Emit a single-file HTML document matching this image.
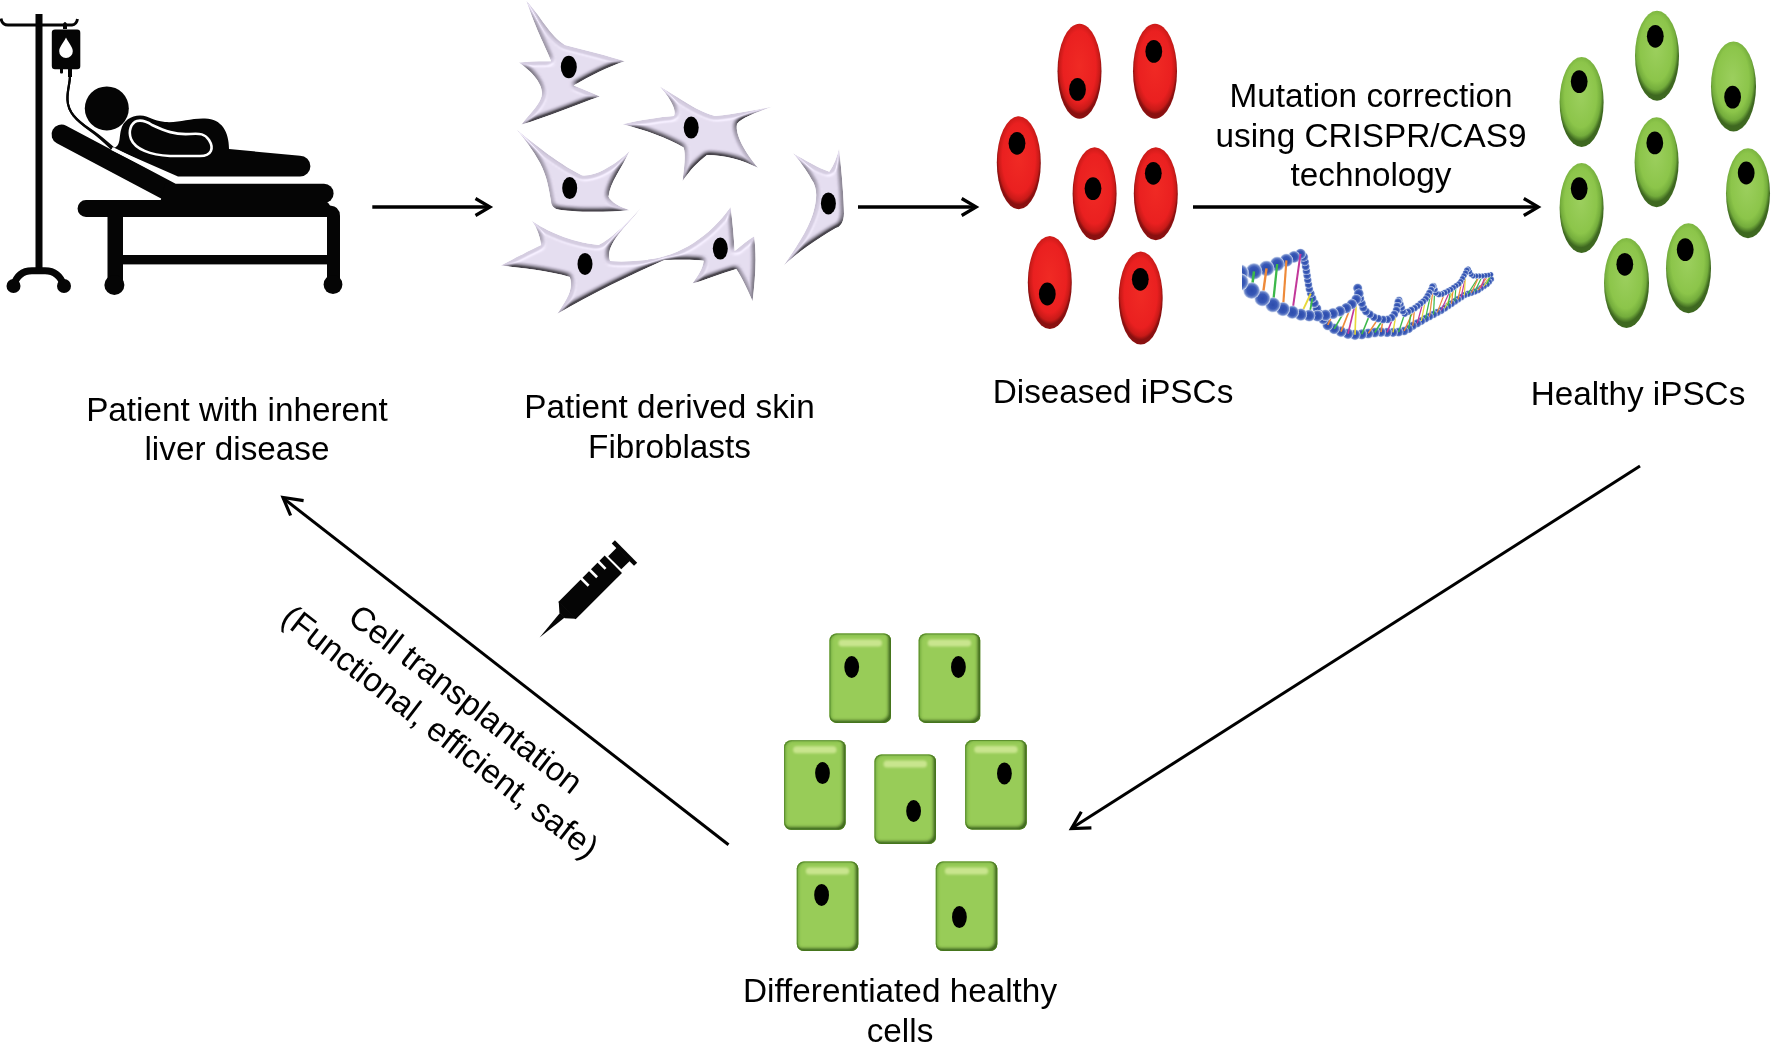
<!DOCTYPE html>
<html><head><meta charset="utf-8">
<style>
html,body{margin:0;padding:0;background:#fff;width:1772px;height:1042px;overflow:hidden}
svg{display:block;will-change:transform}
text{font-family:"Liberation Sans",sans-serif;font-size:33.3px;fill:#000}
</style></head>
<body>
<svg width="1772" height="1042" viewBox="0 0 1772 1042">
<defs>
  <radialGradient id="gRed" cx="50%" cy="45%" r="50%">
    <stop offset="0%" stop-color="#f02a24"/>
    <stop offset="75%" stop-color="#ea2020"/>
    <stop offset="92%" stop-color="#c81a18"/>
    <stop offset="100%" stop-color="#8a1010"/>
  </radialGradient>
  <radialGradient id="gGreen" cx="48%" cy="42%" r="52%">
    <stop offset="0%" stop-color="#9ccf5e"/>
    <stop offset="70%" stop-color="#8cc54a"/>
    <stop offset="88%" stop-color="#74ad3c"/>
    <stop offset="100%" stop-color="#3e6820"/>
  </radialGradient>

  <linearGradient id="gFib" x1="0" y1="0" x2="0.3" y2="1">
    <stop offset="0%" stop-color="#e4e0ec"/>
    <stop offset="50%" stop-color="#d6d0e2"/>
    <stop offset="100%" stop-color="#c4bcd2"/>
  </linearGradient>

  <filter id="emb" x="-10%" y="-10%" width="120%" height="120%">
    <feGaussianBlur in="SourceAlpha" stdDeviation="2.2" result="b"/>
    <feOffset in="b" dx="-1.8" dy="-1.8" result="o"/>
    <feComposite in="SourceAlpha" in2="o" operator="out" result="rim"/>
    <feFlood flood-color="#5e566c" flood-opacity="0.85"/>
    <feComposite in2="rim" operator="in" result="shadow"/>
    <feOffset in="b" dx="1.5" dy="1.5" result="o2"/>
    <feComposite in="SourceAlpha" in2="o2" operator="out" result="rim2"/>
    <feFlood flood-color="#ffffff" flood-opacity="0.6"/>
    <feComposite in2="rim2" operator="in" result="hl"/>
    <feMerge><feMergeNode in="SourceGraphic"/><feMergeNode in="hl"/><feMergeNode in="shadow"/></feMerge>
  </filter>

  <radialGradient id="gBall" cx="50%" cy="50%" r="50%">
    <stop offset="0%" stop-color="#2c4cac"/>
    <stop offset="55%" stop-color="#3858b6"/>
    <stop offset="80%" stop-color="#6a84c8"/>
    <stop offset="92%" stop-color="#b0c0e4"/>
    <stop offset="100%" stop-color="#dce4f4"/>
  </radialGradient>
  <linearGradient id="gRect" x1="0" y1="0" x2="1" y2="0">
    <stop offset="0%" stop-color="#78b440"/>
    <stop offset="8%" stop-color="#92c852"/>
    <stop offset="85%" stop-color="#9acd5a"/>
    <stop offset="94%" stop-color="#6a9c38"/>
    <stop offset="100%" stop-color="#3e6420"/>
  </linearGradient>
  <linearGradient id="gRectV" x1="0" y1="0" x2="0" y2="1">
    <stop offset="0%" stop-color="#7ab444" stop-opacity="0.6"/>
    <stop offset="6%" stop-color="#9ace5a" stop-opacity="0"/>
    <stop offset="8%" stop-color="#d2e89a" stop-opacity="0.9"/>
    <stop offset="15%" stop-color="#c8e48a" stop-opacity="0.0"/>
    <stop offset="88%" stop-color="#5a9030" stop-opacity="0"/>
    <stop offset="94%" stop-color="#4e8428" stop-opacity="0.9"/>
    <stop offset="100%" stop-color="#8cc450" stop-opacity="0.9"/>
  </linearGradient>

  <filter id="embG" x="-10%" y="-10%" width="120%" height="120%">
    <feGaussianBlur in="SourceAlpha" stdDeviation="1.8" result="b"/>
    <feOffset in="b" dx="-3" dy="-2.6" result="o"/>
    <feComposite in="SourceAlpha" in2="o" operator="out" result="rim"/>
    <feFlood flood-color="#3a641c" flood-opacity="1"/>
    <feComposite in2="rim" operator="in" result="shadow"/>
    <feOffset in="b" dx="1.8" dy="1.2" result="o2"/>
    <feComposite in="SourceAlpha" in2="o2" operator="out" result="rim2"/>
    <feFlood flood-color="#5e9c30" flood-opacity="0.8"/>
    <feComposite in2="rim2" operator="in" result="hl"/>
    <feMorphology in="SourceAlpha" operator="erode" radius="0.8" result="er"/>
    <feComposite in="SourceAlpha" in2="er" operator="out" result="edge"/>
    <feFlood flood-color="#4a7a26" flood-opacity="0.7"/>
    <feComposite in2="edge" operator="in" result="edgec"/>
    <feMerge><feMergeNode in="SourceGraphic"/><feMergeNode in="hl"/><feMergeNode in="shadow"/><feMergeNode in="edgec"/></feMerge>
  </filter>
  <filter id="bl1" x="-20%" y="-50%" width="140%" height="200%"><feGaussianBlur stdDeviation="1.3"/></filter>

  <filter id="bev" x="-10%" y="-10%" width="120%" height="120%">
    <feGaussianBlur in="SourceAlpha" stdDeviation="2.6" result="blur"/>
    <feDiffuseLighting in="blur" surfaceScale="6" diffuseConstant="1.3" lighting-color="#ffffff" result="diff">
      <feDistantLight azimuth="250" elevation="55"/>
    </feDiffuseLighting>
    <feSpecularLighting in="blur" surfaceScale="6" specularConstant="0.45" specularExponent="16" lighting-color="#ffffff" result="spec">
      <feDistantLight azimuth="250" elevation="55"/>
    </feSpecularLighting>
    <feComposite in="SourceGraphic" in2="diff" operator="arithmetic" k1="0.9" k2="0.1" k3="0" k4="0" result="lit"/>
    <feComposite in="lit" in2="spec" operator="arithmetic" k1="0" k2="1" k3="0.6" k4="0" result="lit2"/>
    <feComposite in="lit2" in2="SourceAlpha" operator="in"/>
  </filter>
<clipPath id="dnaclip"><rect x="1242" y="230" width="270" height="120"/></clipPath>
</defs>

<g id="patient" fill="#050505">
  <!-- IV pole -->
  <rect x="35.5" y="14" width="7" height="256"/>
  <path d="M1,18.5 Q2,25 8,25 L72,25 Q76.5,24.5 77.5,19" fill="none" stroke="#050505" stroke-width="2.9"/>
  <path d="M63,29 L63,24 Q65,20 67,24 L67,29 Z"/>
  <rect x="51.8" y="29.5" width="28.5" height="39.8" rx="3.2"/>
  <rect x="60" y="68" width="3" height="5.5" rx="1"/>
  <rect x="68" y="68" width="4" height="9"/>
  <path d="M66,37.6 C68.5,43 72.8,47 72.8,51.2 A6.8,6.8 0 0 1 59.2,51.2 C59.2,47 63.5,43 66,37.6 Z" fill="#fff"/>
  <path d="M70,76 C70,84 67,90 67.5,100 C68,112 76,120 90,130 C100,137 106,143 112,149" fill="none" stroke="#050505" stroke-width="2.2"/>
  <!-- base of pole -->
  <path d="M13.5,286 C16,277 22,270.8 32,270.8 L45,270.8 C55,270.8 61,277 64,286" fill="none" stroke="#050505" stroke-width="7"/>
  <circle cx="13.5" cy="286" r="7"/>
  <circle cx="64" cy="286" r="7"/>
  <!-- head -->
  <circle cx="106.8" cy="108.4" r="22"/>
  <!-- backrest -->
  <path d="M61.5,134.5 L170,192" stroke="#050505" stroke-width="20" stroke-linecap="round"/>
  <!-- mattress -->
  <path d="M165,183.8 L324,183.8 A9.6,9.6 0 0 1 324,203 L160,203 Z"/>
  <!-- frame -->
  <path d="M86,200 L320,200 Q327,200 330,205.4 Q340,206 340,216 L340,280 L327,280 L327,216.9 L86,216.9 A8.45,8.45 0 0 1 86,200 Z"/>
  <rect x="107.5" y="210" width="15.5" height="72"/>
  <circle cx="114.4" cy="285" r="10"/>
  <circle cx="333" cy="284.5" r="9.4"/>
  <rect x="120" y="255" width="210" height="9.4"/>
  <!-- body -->
  <path d="M113,148 C121,147 119,137 121,130 C123,121 131,115.6 140,115.6 C150,116 152,121 165,122 C180,123 190,118 205,118.5 C222,119 229,132 229,149 L300,155.8 A10.4,10.4 0 0 1 300,176.6 L178,176.6 Z"/>
  <path d="M70,76 C70,84 67,90 67.5,100 C68,112 76,120 90,129.5 C100,136 106,142 114,148.5" fill="none" stroke="#050505" stroke-width="2.2"/>
  <!-- arm outline (white) -->
  <path d="M137,121 C131,123 128,131 131,139 C135,149 150,155 170,156 L200,156 C212,156 214,148 209,140 C205,134 200,133 190,134 C175,135 165,131 152,125 C146,121 141,120 137,121 Z" fill="none" stroke="#fff" stroke-width="2.6"/>
  <!-- white gap line between body and backrest -->
  <path d="M112,148.5 L176,180.5 L340,180.5" fill="none" stroke="#fff" stroke-width="3.5"/>
</g>

<g id="fibro" fill="#d4cce0" filter="url(#bev)">
  <path d="M526.2,0.6 C540,15 550,36 565,45 C585,50 608,56 625,61.2 C607,67 590,76 573.7,85.5 C583,89 592,93 600,96.5 C575,105 547,117 521.2,124.8 C530,113 542,103 542,93 C542,82 530,70 518.7,62.4 C528,61.5 540,61 551,61.2 C547,50 536,30 526.2,0.6 Z"/>
  <path d="M516.5,129.6 C530,140 555,162 581.8,175.2 C595,177 615,165 629.8,150.7 C622,168 610,182 608.6,196.8 C611,202 620,207 629.8,210.2 C600,213 570,212 556,209 C552,207 551,204 551.1,201.6 C549,190 547,176 540,163 C533,150 524,139 516.5,129.6 Z"/>
  <path d="M659.5,86.3 C680,98 698,112 715,116 C735,114 755,110 772.7,106.5 C755,113 741,118 737,124 C735,135 745,152 758.3,168 C742,160 725,155 707,155 C698,162 690,170 682.5,181.3 C684,168 686,155 683.6,147.6 C668,138 645,130 622.4,124.3 C640,120 660,117 674,116 C677,110 670,98 659.5,86.3 Z"/>
  <path d="M792.6,153.1 C805,160 818,168 829.3,171.8 C834,165 837,157 839.1,148.2 C842,175 844,200 844,213.4 C844,222 840,227 835.9,228.1 C815,240 795,255 783.6,265.7 C793,252 808,230 813,213.4 C817,200 818,188 811.4,179.2 C806,170 799,160 792.6,153.1 Z"/>
  <path d="M531.8,220.7 C545,230 570,242 598.6,244.9 C610,240 628,222 641.2,207.5 C628,226 604,244 610.1,261 C630,262.5 650,259.5 670,257.6 C630,275 590,295 557.2,314 C566,300 574,290 569.8,277.1 C550,271 520,268 500.8,265.6 C515,258 530,250 541.1,244.9 C540,236 537,228 531.8,220.7 Z"/>
  <path d="M648,259.5 C680,256 710,236 730.6,206.9 C733,225 734,240 734.7,251 C742,245 748,240 754.2,236.3 C757,260 755,280 752.6,301.6 C748,290 742,278 736.3,268.9 C722,273 705,280 692.2,283.6 C698,276 703,268 703.7,260.8 C690,259 668,260 648,261 Z"/>
</g>
<g fill="#000">
  <ellipse cx="568.8" cy="67" rx="8" ry="11.2"/>
  <ellipse cx="569.7" cy="188.1" rx="7.5" ry="11"/>
  <ellipse cx="691.2" cy="127.6" rx="7.5" ry="11"/>
  <ellipse cx="828.4" cy="203.4" rx="7.5" ry="11"/>
  <ellipse cx="585" cy="264" rx="7.5" ry="11"/>
  <ellipse cx="720.3" cy="248.6" rx="7.5" ry="11"/>
</g>
<g id="rects">
  <rect x="829.5" y="633.4" width="61.5" height="89.5" rx="7" fill="#98cc58" filter="url(#embG)"/><rect x="838.5" y="639.4" width="43.5" height="7" rx="3.5" fill="#d2ea98" opacity="0.85" filter="url(#bl1)"/><ellipse cx="851.7" cy="667" rx="7.4" ry="11"/>
  <rect x="918.7" y="633.4" width="61.5" height="89.5" rx="7" fill="#98cc58" filter="url(#embG)"/><rect x="927.7" y="639.4" width="43.5" height="7" rx="3.5" fill="#d2ea98" opacity="0.85" filter="url(#bl1)"/><ellipse cx="958.4" cy="667" rx="7.4" ry="11"/>
  <rect x="784.1" y="740.3" width="61.5" height="89.5" rx="7" fill="#98cc58" filter="url(#embG)"/><rect x="793.1" y="746.3" width="43.5" height="7" rx="3.5" fill="#d2ea98" opacity="0.85" filter="url(#bl1)"/><ellipse cx="822.5" cy="773.1" rx="7.4" ry="11"/>
  <rect x="874.5" y="754.5" width="61.5" height="89.5" rx="7" fill="#98cc58" filter="url(#embG)"/><rect x="883.5" y="760.5" width="43.5" height="7" rx="3.5" fill="#d2ea98" opacity="0.85" filter="url(#bl1)"/><ellipse cx="913.6" cy="811" rx="7.4" ry="11"/>
  <rect x="965.2" y="740.1" width="61.5" height="89.5" rx="7" fill="#98cc58" filter="url(#embG)"/><rect x="974.2" y="746.1" width="43.5" height="7" rx="3.5" fill="#d2ea98" opacity="0.85" filter="url(#bl1)"/><ellipse cx="1004.4" cy="773.4" rx="7.4" ry="11"/>
  <rect x="796.8" y="861.6" width="61.5" height="89.5" rx="7" fill="#98cc58" filter="url(#embG)"/><rect x="805.8" y="867.6" width="43.5" height="7" rx="3.5" fill="#d2ea98" opacity="0.85" filter="url(#bl1)"/><ellipse cx="821.6" cy="894.9" rx="7.4" ry="11"/>
  <rect x="935.8" y="861.6" width="61.5" height="89.5" rx="7" fill="#98cc58" filter="url(#embG)"/><rect x="944.8" y="867.6" width="43.5" height="7" rx="3.5" fill="#d2ea98" opacity="0.85" filter="url(#bl1)"/><ellipse cx="959.4" cy="917.1" rx="7.4" ry="11"/>
</g>
<g id="dna" clip-path="url(#dnaclip)">
<g fill="url(#gBall)"><circle cx="1491.1" cy="279.2" r="3.30"/><circle cx="1489.1" cy="281.9" r="3.31"/><circle cx="1486.9" cy="284.3" r="3.32"/><circle cx="1483.9" cy="286.2" r="3.36"/><circle cx="1480.9" cy="288.2" r="3.40"/><circle cx="1478.0" cy="290.2" r="3.44"/><circle cx="1474.8" cy="291.6" r="3.48"/><circle cx="1471.4" cy="292.7" r="3.52"/><circle cx="1467.9" cy="293.8" r="3.56"/><circle cx="1464.4" cy="295.1" r="3.60"/><circle cx="1461.2" cy="297.2" r="3.65"/><circle cx="1458.0" cy="299.3" r="3.69"/><circle cx="1454.8" cy="301.4" r="3.73"/><circle cx="1451.5" cy="303.7" r="3.77"/><circle cx="1448.1" cy="305.9" r="3.81"/><circle cx="1444.7" cy="308.2" r="3.86"/><circle cx="1441.1" cy="310.5" r="3.91"/><circle cx="1437.3" cy="312.4" r="3.98"/><circle cx="1433.5" cy="314.4" r="4.05"/><circle cx="1429.5" cy="316.5" r="4.13"/><circle cx="1425.5" cy="318.6" r="4.20"/><circle cx="1421.3" cy="321.0" r="4.28"/><circle cx="1417.2" cy="323.3" r="4.36"/><circle cx="1412.8" cy="325.8" r="4.45"/><circle cx="1408.7" cy="328.9" r="4.54"/><circle cx="1404.1" cy="331.0" r="4.63"/><circle cx="1398.6" cy="332.1" r="4.74"/><circle cx="1393.0" cy="332.4" r="4.84"/><circle cx="1387.1" cy="332.4" r="4.94"/><circle cx="1381.0" cy="332.1" r="5.04"/><circle cx="1374.7" cy="332.5" r="5.16"/><circle cx="1368.3" cy="333.4" r="5.27"/><circle cx="1361.8" cy="334.3" r="5.39"/><circle cx="1355.0" cy="334.7" r="5.49"/><circle cx="1348.0" cy="333.7" r="5.52"/><circle cx="1341.0" cy="331.6" r="5.55"/><circle cx="1334.2" cy="328.8" r="5.57"/><circle cx="1327.8" cy="325.0" r="5.60"/><circle cx="1323.2" cy="319.2" r="5.27"/><circle cx="1319.5" cy="313.9" r="4.96"/><circle cx="1316.9" cy="308.4" r="4.74"/><circle cx="1314.5" cy="303.2" r="4.53"/><circle cx="1312.4" cy="298.3" r="4.35"/><circle cx="1310.8" cy="293.5" r="4.20"/><circle cx="1309.3" cy="289.0" r="4.06"/><circle cx="1308.5" cy="284.5" r="4.04"/><circle cx="1307.8" cy="280.0" r="4.04"/><circle cx="1307.1" cy="275.5" r="4.04"/><circle cx="1306.4" cy="271.0" r="4.12"/><circle cx="1305.7" cy="266.5" r="4.21"/><circle cx="1304.9" cy="261.8" r="4.33"/><circle cx="1303.5" cy="256.9" r="4.88"/><circle cx="1300.5" cy="253.9" r="5.50"/><circle cx="1294.0" cy="256.9" r="6.12"/><circle cx="1286.4" cy="260.3" r="6.77"/><circle cx="1277.2" cy="264.0" r="7.40"/><circle cx="1266.5" cy="268.4" r="7.90"/><circle cx="1254.0" cy="271.4" r="8.33"/><circle cx="1240.0" cy="273.0" r="8.72"/></g>
<g><line x1="1251.6" y1="290.6" x2="1254.0" y2="271.4" stroke="#3cb84a" stroke-width="2.52"/><line x1="1262.4" y1="298.4" x2="1266.5" y2="268.4" stroke="#ee8a3a" stroke-width="2.42"/><line x1="1272.9" y1="304.8" x2="1277.2" y2="264.0" stroke="#3cb84a" stroke-width="2.30"/><line x1="1282.9" y1="309.1" x2="1286.4" y2="260.3" stroke="#ee8a3a" stroke-width="2.15"/><line x1="1292.3" y1="312.2" x2="1300.5" y2="253.9" stroke="#c2389a" stroke-width="2.01"/><line x1="1300.8" y1="314.6" x2="1310.8" y2="293.5" stroke="#e8d83a" stroke-width="1.90"/><line x1="1309.2" y1="315.6" x2="1312.4" y2="298.3" stroke="#3cb84a" stroke-width="1.84"/><line x1="1327.8" y1="325.0" x2="1332.9" y2="313.6" stroke="#ee8a3a" stroke-width="1.68"/><line x1="1334.2" y1="328.8" x2="1346.3" y2="308.1" stroke="#3cb84a" stroke-width="1.67"/><line x1="1341.0" y1="331.6" x2="1351.8" y2="304.2" stroke="#ee8a3a" stroke-width="1.66"/><line x1="1348.0" y1="333.7" x2="1356.3" y2="299.3" stroke="#c2389a" stroke-width="1.66"/><line x1="1355.0" y1="334.7" x2="1356.3" y2="299.3" stroke="#e8d83a" stroke-width="1.65"/><line x1="1361.8" y1="334.3" x2="1369.9" y2="314.3" stroke="#3cb84a" stroke-width="1.62"/><line x1="1368.3" y1="333.4" x2="1378.2" y2="318.6" stroke="#ee8a3a" stroke-width="1.58"/><line x1="1374.7" y1="332.5" x2="1383.0" y2="319.5" stroke="#3cb84a" stroke-width="1.55"/><line x1="1381.0" y1="332.1" x2="1383.0" y2="319.5" stroke="#ee8a3a" stroke-width="1.51"/><line x1="1387.1" y1="332.4" x2="1394.4" y2="314.3" stroke="#c2389a" stroke-width="1.48"/><line x1="1393.0" y1="332.4" x2="1397.3" y2="306.0" stroke="#e8d83a" stroke-width="1.45"/><line x1="1398.6" y1="332.1" x2="1404.7" y2="313.6" stroke="#3cb84a" stroke-width="1.42"/><line x1="1404.1" y1="331.0" x2="1414.6" y2="308.2" stroke="#ee8a3a" stroke-width="1.39"/><line x1="1408.7" y1="328.9" x2="1411.3" y2="310.0" stroke="#3cb84a" stroke-width="1.36"/><line x1="1412.8" y1="325.8" x2="1414.6" y2="308.2" stroke="#ee8a3a" stroke-width="1.33"/><line x1="1417.2" y1="323.3" x2="1423.2" y2="301.4" stroke="#c2389a" stroke-width="1.31"/><line x1="1421.3" y1="321.0" x2="1425.7" y2="298.9" stroke="#e8d83a" stroke-width="1.28"/><line x1="1425.5" y1="318.6" x2="1432.3" y2="286.5" stroke="#3cb84a" stroke-width="1.26"/><line x1="1429.5" y1="316.5" x2="1433.5" y2="286.0" stroke="#ee8a3a" stroke-width="1.24"/><line x1="1433.5" y1="314.4" x2="1434.7" y2="289.4" stroke="#3cb84a" stroke-width="1.22"/><line x1="1437.3" y1="312.4" x2="1444.8" y2="292.6" stroke="#ee8a3a" stroke-width="1.20"/><line x1="1441.1" y1="310.5" x2="1450.6" y2="289.6" stroke="#c2389a" stroke-width="1.20"/><line x1="1444.7" y1="308.2" x2="1456.0" y2="285.8" stroke="#e8d83a" stroke-width="1.20"/><line x1="1448.1" y1="305.9" x2="1450.6" y2="289.6" stroke="#3cb84a" stroke-width="1.20"/><line x1="1451.5" y1="303.7" x2="1453.3" y2="287.7" stroke="#ee8a3a" stroke-width="1.20"/><line x1="1454.8" y1="301.4" x2="1456.0" y2="285.8" stroke="#3cb84a" stroke-width="1.20"/><line x1="1458.0" y1="299.3" x2="1462.4" y2="278.6" stroke="#ee8a3a" stroke-width="1.20"/><line x1="1461.2" y1="297.2" x2="1466.8" y2="270.1" stroke="#c2389a" stroke-width="1.20"/><line x1="1464.4" y1="295.1" x2="1465.5" y2="272.9" stroke="#e8d83a" stroke-width="1.20"/><line x1="1467.9" y1="293.8" x2="1479.2" y2="276.0" stroke="#3cb84a" stroke-width="1.20"/><line x1="1471.4" y1="292.7" x2="1479.2" y2="276.0" stroke="#ee8a3a" stroke-width="1.20"/><line x1="1474.8" y1="291.6" x2="1482.3" y2="276.0" stroke="#3cb84a" stroke-width="1.20"/><line x1="1478.0" y1="290.2" x2="1488.3" y2="275.1" stroke="#ee8a3a" stroke-width="1.20"/><line x1="1480.9" y1="288.2" x2="1485.3" y2="275.5" stroke="#c2389a" stroke-width="1.20"/><line x1="1483.9" y1="286.2" x2="1491.0" y2="274.6" stroke="#e8d83a" stroke-width="1.20"/><line x1="1486.9" y1="284.3" x2="1491.0" y2="274.6" stroke="#3cb84a" stroke-width="1.20"/></g>
<g fill="url(#gBall)"><circle cx="1491.0" cy="274.6" r="2.76"/><circle cx="1488.3" cy="275.1" r="2.79"/><circle cx="1485.3" cy="275.5" r="2.84"/><circle cx="1482.3" cy="276.0" r="2.88"/><circle cx="1479.2" cy="276.0" r="2.89"/><circle cx="1476.2" cy="276.0" r="2.90"/><circle cx="1473.2" cy="276.0" r="2.90"/><circle cx="1471.1" cy="274.4" r="2.93"/><circle cx="1469.6" cy="271.8" r="2.97"/><circle cx="1468.1" cy="269.1" r="3.01"/><circle cx="1466.8" cy="270.1" r="3.03"/><circle cx="1465.5" cy="272.9" r="3.03"/><circle cx="1464.0" cy="275.7" r="3.04"/><circle cx="1462.4" cy="278.6" r="3.04"/><circle cx="1460.8" cy="281.5" r="3.04"/><circle cx="1458.8" cy="283.9" r="3.06"/><circle cx="1456.0" cy="285.8" r="3.10"/><circle cx="1453.3" cy="287.7" r="3.14"/><circle cx="1450.6" cy="289.6" r="3.17"/><circle cx="1447.7" cy="291.1" r="3.22"/><circle cx="1444.8" cy="292.6" r="3.26"/><circle cx="1441.8" cy="294.1" r="3.30"/><circle cx="1438.8" cy="294.4" r="3.33"/><circle cx="1435.9" cy="292.8" r="3.34"/><circle cx="1434.7" cy="289.4" r="3.39"/><circle cx="1433.5" cy="286.0" r="3.43"/><circle cx="1432.3" cy="286.5" r="3.46"/><circle cx="1431.1" cy="289.8" r="3.46"/><circle cx="1429.3" cy="292.8" r="3.47"/><circle cx="1427.5" cy="295.9" r="3.47"/><circle cx="1425.7" cy="298.9" r="3.48"/><circle cx="1423.2" cy="301.4" r="3.50"/><circle cx="1420.5" cy="303.6" r="3.54"/><circle cx="1417.5" cy="306.0" r="3.58"/><circle cx="1414.6" cy="308.2" r="3.62"/><circle cx="1411.3" cy="310.0" r="3.63"/><circle cx="1408.0" cy="311.8" r="3.64"/><circle cx="1404.7" cy="313.6" r="3.65"/><circle cx="1402.9" cy="311.2" r="3.65"/><circle cx="1401.6" cy="307.6" r="3.66"/><circle cx="1400.3" cy="304.1" r="3.73"/><circle cx="1399.0" cy="300.2" r="3.86"/><circle cx="1398.1" cy="301.8" r="3.93"/><circle cx="1397.3" cy="306.0" r="3.98"/><circle cx="1396.4" cy="310.2" r="4.03"/><circle cx="1394.4" cy="314.3" r="4.10"/><circle cx="1391.6" cy="317.6" r="4.16"/><circle cx="1387.4" cy="319.4" r="4.17"/><circle cx="1383.0" cy="319.5" r="4.19"/><circle cx="1378.2" cy="318.6" r="4.20"/><circle cx="1373.8" cy="317.1" r="4.21"/><circle cx="1369.9" cy="314.3" r="4.23"/><circle cx="1366.0" cy="311.5" r="4.24"/><circle cx="1363.3" cy="307.8" r="4.27"/><circle cx="1361.8" cy="303.3" r="4.32"/><circle cx="1360.2" cy="298.5" r="4.37"/><circle cx="1358.9" cy="293.6" r="4.60"/><circle cx="1357.7" cy="288.2" r="4.86"/><circle cx="1358.8" cy="293.5" r="5.12"/><circle cx="1356.3" cy="299.3" r="5.23"/><circle cx="1351.8" cy="304.2" r="5.35"/><circle cx="1346.3" cy="308.1" r="5.47"/><circle cx="1339.9" cy="311.2" r="5.60"/><circle cx="1332.9" cy="313.6" r="5.73"/><circle cx="1325.5" cy="315.2" r="5.85"/><circle cx="1317.5" cy="315.8" r="5.97"/><circle cx="1309.2" cy="315.6" r="6.13"/><circle cx="1300.8" cy="314.6" r="6.33"/><circle cx="1292.3" cy="312.2" r="6.71"/><circle cx="1282.9" cy="309.1" r="7.16"/><circle cx="1272.9" cy="304.8" r="7.67"/><circle cx="1262.4" cy="298.4" r="8.07"/><circle cx="1251.6" cy="290.6" r="8.42"/><circle cx="1240.0" cy="282.0" r="8.72"/></g>
</g>
<g id="syringe" transform="translate(539.6,637.6) rotate(-45)" fill="#050505">
  <polygon points="0,0 32,-3 32,3.5"/>
  <polygon points="31.5,-3.5 39,-12 39,12.5 31.5,4"/>
  <rect x="38.5" y="-12" width="65.5" height="24.5"/>
  <rect x="70" y="-13" width="2.6" height="11" fill="#fff"/>
  <rect x="82" y="-13" width="2.6" height="11" fill="#fff"/>
  <rect x="94" y="-13" width="2.6" height="11" fill="#fff"/>
  <rect x="106" y="-9" width="12" height="18.5"/>
  <rect x="117.5" y="-15.5" width="4.5" height="31.5"/>
</g>
<g id="rottext">
  <text transform="translate(458.8,708.1) rotate(37.8)" text-anchor="middle">Cell transplantation</text>
  <text transform="translate(433.3,740.7) rotate(37.8)" text-anchor="middle">(Functional, efficient, safe)</text>
</g>
<g id="texts">
  <text x="1371" y="106.7" text-anchor="middle">Mutation correction</text>
  <text x="1371" y="146.9" text-anchor="middle">using CRISPR/CAS9</text>
  <text x="1371" y="186.1" text-anchor="middle">technology</text>
  <text x="237" y="420.5" text-anchor="middle">Patient with inherent</text>
  <text x="237" y="460" text-anchor="middle">liver disease</text>
  <text x="669.5" y="417.7" text-anchor="middle">Patient derived skin</text>
  <text x="669.5" y="457.8" text-anchor="middle">Fibroblasts</text>
  <text x="1113" y="402.7" text-anchor="middle">Diseased iPSCs</text>
  <text x="1638" y="405.4" text-anchor="middle">Healthy iPSCs</text>
  <text x="900" y="1001.6" text-anchor="middle">Differentiated healthy</text>
  <text x="900" y="1042" text-anchor="middle">cells</text>
</g>
<g id="arrows" stroke="#000" fill="none" stroke-width="3.3">
  <line x1="372.3" y1="207" x2="490" y2="207"/>
  <polyline points="475.5,198.5 490,207 475.5,215.5" stroke-width="3.2"/>
  <line x1="858" y1="207" x2="976" y2="207"/>
  <polyline points="961.7,198.5 976.2,207 961.7,215.5" stroke-width="3.2"/>
  <line x1="1193" y1="207" x2="1538" y2="207"/>
  <polyline points="1523.8,198.5 1538.3,207 1523.8,215.5" stroke-width="3.2"/>
  <line x1="1640" y1="466.1" x2="1072" y2="828" stroke-width="3"/>
  <polyline points="1081.3,811.7 1071.5,828.5 1091.4,827.8" stroke-width="3.2"/>
  <line x1="728.5" y1="844.8" x2="283" y2="498" stroke-width="3"/>
  <polyline points="303.6,500.6 283,497.5 290.6,515.5" stroke-width="3.2"/>
</g>
<g id="red">
  <ellipse cx="1079.5" cy="71.2" rx="22" ry="47.5" fill="url(#gRed)"/>
  <ellipse cx="1155" cy="71.2" rx="22" ry="47.5" fill="url(#gRed)"/>
  <ellipse cx="1018.8" cy="162.7" rx="22" ry="46.5" fill="url(#gRed)"/>
  <ellipse cx="1094.6" cy="193.7" rx="22" ry="46.5" fill="url(#gRed)"/>
  <ellipse cx="1155.8" cy="193.7" rx="22" ry="46.5" fill="url(#gRed)"/>
  <ellipse cx="1049.8" cy="282.5" rx="22" ry="46.5" fill="url(#gRed)"/>
  <ellipse cx="1140.7" cy="298" rx="22" ry="46.5" fill="url(#gRed)"/>
  <g fill="#000">
    <ellipse cx="1077.5" cy="89.4" rx="8.4" ry="11.4"/>
    <ellipse cx="1153.8" cy="51.4" rx="8.4" ry="11.4"/>
    <ellipse cx="1017" cy="143.3" rx="8.4" ry="11.4"/>
    <ellipse cx="1093" cy="188.6" rx="8.4" ry="11.4"/>
    <ellipse cx="1153.3" cy="173.3" rx="8.4" ry="11.4"/>
    <ellipse cx="1047.3" cy="294" rx="8.4" ry="11.4"/>
    <ellipse cx="1140.3" cy="279.3" rx="8.4" ry="11.4"/>
  </g>
</g>
<g id="green">
  <ellipse cx="1581.6" cy="102" rx="22" ry="45" fill="url(#gGreen)"/>
  <ellipse cx="1657" cy="55.8" rx="22" ry="45" fill="url(#gGreen)"/>
  <ellipse cx="1733.5" cy="86.4" rx="22.5" ry="45" fill="url(#gGreen)"/>
  <ellipse cx="1656.6" cy="162.3" rx="22" ry="45" fill="url(#gGreen)"/>
  <ellipse cx="1581.6" cy="208" rx="22" ry="45" fill="url(#gGreen)"/>
  <ellipse cx="1748" cy="193.3" rx="22" ry="45" fill="url(#gGreen)"/>
  <ellipse cx="1626.5" cy="283" rx="22.5" ry="45" fill="url(#gGreen)"/>
  <ellipse cx="1688.5" cy="268.3" rx="22.5" ry="45" fill="url(#gGreen)"/>
  <g fill="#000">
    <ellipse cx="1579.2" cy="81.6" rx="8.4" ry="11.4"/>
    <ellipse cx="1655.3" cy="36.3" rx="8.4" ry="11.4"/>
    <ellipse cx="1732.6" cy="97.1" rx="8.4" ry="11.4"/>
    <ellipse cx="1654.8" cy="142.9" rx="8.4" ry="11.4"/>
    <ellipse cx="1579.2" cy="188.6" rx="8.4" ry="11.4"/>
    <ellipse cx="1746.2" cy="173" rx="8.4" ry="11.4"/>
    <ellipse cx="1624.8" cy="264.3" rx="8.4" ry="11.4"/>
    <ellipse cx="1685.2" cy="249.6" rx="8.4" ry="11.4"/>
  </g>
</g>
</svg>
</body></html>
